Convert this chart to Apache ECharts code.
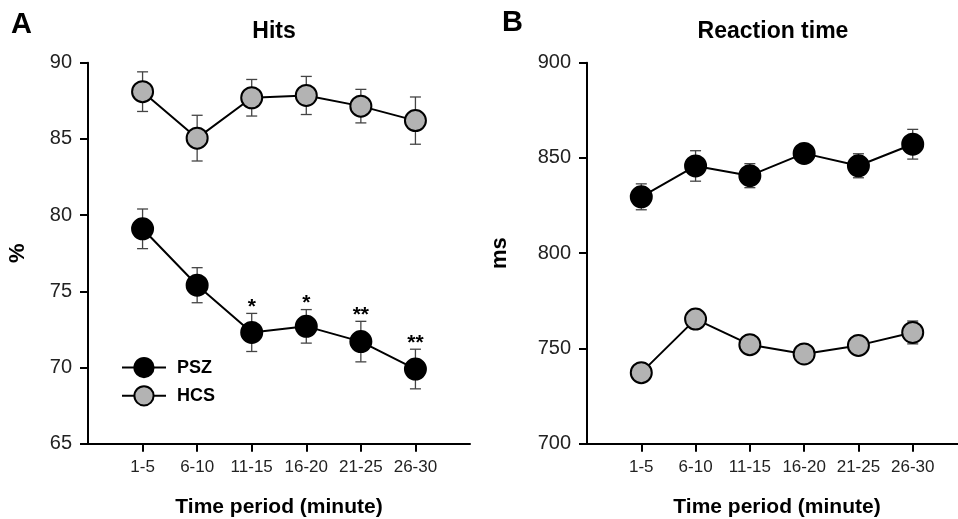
<!DOCTYPE html>
<html>
<head>
<meta charset="utf-8">
<script src="https://cdn.jsdelivr.net/npm/echarts@6/dist/echarts.min.js"></script>
<style>
  html, body { margin: 0; background: #fff; }
  #chart { width: 958px; height: 519px; }
</style>
</head>
<body>
<div id="chart"></div>
<script>
// time periods on the x axis (minutes)
const periods = ['1-5', '6-10', '11-15', '16-20', '21-25', '26-30']

// panel A: hits (%)
const hitsPSZ = [79.1, 75.4, 72.3, 72.7, 71.7, 69.9]
const hitsPSZErr = [1.3, 1.15, 1.25, 1.1, 1.33, 1.3]
const hitsHCS = [88.1, 85.05, 87.7, 87.85, 87.15, 86.2]
const hitsHCSErr = [1.3, 1.5, 1.2, 1.25, 1.1, 1.55]
const hitsStars = ['', '', '*', '*', '**', '**']
const hitsTicks = [65, 70, 75, 80, 85, 90]

// panel B: reaction time (ms)
const rtPSZ = [829.6, 845.8, 840.7, 852.4, 845.9, 857.2]
const rtPSZErr = [6.8, 8, 6.3, 3, 6.3, 7.8]
const rtHCS = [737.3, 765.4, 752, 747.1, 751.6, 758.4]
const rtHCSErr = [3, 5, 3, 3, 3, 6]
const rtTicks = [700, 750, 800, 850, 900]

const FONT = 'Liberation Sans'
const HCS_FILL = '#b3b3b3'
const xPos = periods.map((p, i) => i + 1)

const chart = echarts.init(document.getElementById('chart'))

const xAxisCfg = gridIndex => ({
  type: 'value',
  gridIndex,
  min: 0,
  max: 7,
  interval: 1,
  name: 'Time period (minute)',
  nameLocation: 'middle',
  nameGap: 53,
  nameTextStyle: { fontFamily: FONT, fontWeight: 'bold', fontSize: 21, color: '#000' },
  axisLine: { lineStyle: { color: '#000', width: 2 } },
  axisTick: { length: 8, lineStyle: { color: '#000', width: 2 }, customValues: xPos },
  axisLabel: {
    customValues: xPos,
    margin: 15,
    fontFamily: FONT,
    fontSize: 17,
    color: '#222',
    formatter: v => periods[v - 1] || '',
  },
  splitLine: { show: false },
})

const yAxisCfg = (gridIndex, ticks, name, gap) => ({
  type: 'value',
  gridIndex,
  min: ticks[0],
  max: ticks[ticks.length - 1],
  interval: ticks[1] - ticks[0],
  name,
  nameLocation: 'middle',
  nameRotate: 90,
  nameGap: gap,
  nameTextStyle: { fontFamily: FONT, fontWeight: 'bold', fontSize: 22, color: '#000' },
  axisLine: { show: true, lineStyle: { color: '#000', width: 2 } },
  axisTick: { show: true, length: 8, lineStyle: { color: '#000', width: 2 } },
  axisLabel: { margin: 16, fontFamily: FONT, fontSize: 20, color: '#222' },
  splitLine: { show: false },
})

const lineSeries = (name, vals, idx, fill) => ({
  name,
  type: 'line',
  xAxisIndex: idx,
  yAxisIndex: idx,
  data: vals.map((v, i) => [xPos[i], v]),
  symbol: 'circle',
  symbolSize: 21,
  z: 3,
  lineStyle: { color: '#000', width: 2 },
  itemStyle: { color: fill, borderColor: '#000', borderWidth: 2 },
  emphasis: { disabled: true },
})

const errSeries = (vals, errs, idx) => ({
  type: 'custom',
  xAxisIndex: idx,
  yAxisIndex: idx,
  z: 1,
  silent: true,
  data: vals.map((v, i) => [xPos[i], v - errs[i], v + errs[i]]),
  renderItem: (params, api) => {
    const lo = api.coord([api.value(0), api.value(1)])
    const hi = api.coord([api.value(0), api.value(2)])
    const w = 5.5
    const style = { stroke: '#444', lineWidth: 1.3 }
    return {
      type: 'group',
      children: [
        { type: 'line', shape: { x1: lo[0], y1: lo[1], x2: hi[0], y2: hi[1] }, style },
        { type: 'line', shape: { x1: lo[0] - w, y1: lo[1], x2: lo[0] + w, y2: lo[1] }, style },
        { type: 'line', shape: { x1: hi[0] - w, y1: hi[1], x2: hi[0] + w, y2: hi[1] }, style },
      ],
    }
  },
})

const starSeries = {
  type: 'custom',
  xAxisIndex: 0,
  yAxisIndex: 0,
  z: 4,
  silent: true,
  data: hitsPSZ.map((v, i) => [xPos[i], v + hitsPSZErr[i], i]),
  renderItem: (params, api) => {
    const p = api.coord([api.value(0), api.value(1)])
    return {
      type: 'text',
      x: p[0],
      y: p[1] - 6,
      style: {
        text: hitsStars[api.value(2)],
        fontFamily: FONT,
        fontWeight: 'bold',
        fontSize: 21,
        fill: '#000',
        align: 'center',
        verticalAlign: 'middle',
      },
    }
  },
}

chart.setOption({
  animation: false,
  backgroundColor: '#fff',
  grid: [
    { left: 88, top: 62.7, width: 382, height: 381, outerBoundsMode: 'none' },
    { left: 587, top: 62.7, width: 380, height: 381, outerBoundsMode: 'none' },
  ],
  xAxis: [xAxisCfg(0), xAxisCfg(1)],
  yAxis: [
    yAxisCfg(0, hitsTicks, '%', 59),
    yAxisCfg(1, rtTicks, 'ms', 76),
  ],
  legend: {
    data: ['PSZ', 'HCS'],
    orient: 'vertical',
    left: 121,
    top: 357,
    padding: 0,
    itemWidth: 44,
    itemHeight: 24,
    itemGap: 7,
    selectedMode: false,
    textStyle: { fontFamily: FONT, fontWeight: 'bold', fontSize: 18, color: '#000', padding: [0, 0, 0, 6] },
  },
  graphic: [
    { type: 'text', left: 11, top: 10, style: { text: 'A', fontFamily: FONT, fontWeight: 'bold', fontSize: 29, fill: '#000' } },
    { type: 'text', left: 502, top: 8, style: { text: 'B', fontFamily: FONT, fontWeight: 'bold', fontSize: 29, fill: '#000' } },
    { type: 'text', x: 274, y: 32, style: { text: 'Hits', fontFamily: FONT, fontWeight: 'bold', fontSize: 23, fill: '#000', align: 'center', verticalAlign: 'middle' } },
    { type: 'text', x: 773, y: 32, style: { text: 'Reaction time', fontFamily: FONT, fontWeight: 'bold', fontSize: 23, fill: '#000', align: 'center', verticalAlign: 'middle' } },
  ],
  series: [
    errSeries(hitsPSZ, hitsPSZErr, 0),
    errSeries(hitsHCS, hitsHCSErr, 0),
    lineSeries('PSZ', hitsPSZ, 0, '#000'),
    lineSeries('HCS', hitsHCS, 0, HCS_FILL),
    starSeries,
    errSeries(rtPSZ, rtPSZErr, 1),
    errSeries(rtHCS, rtHCSErr, 1),
    lineSeries('PSZ', rtPSZ, 1, '#000'),
    lineSeries('HCS', rtHCS, 1, HCS_FILL),
  ],
})
</script>
</body>
</html>
